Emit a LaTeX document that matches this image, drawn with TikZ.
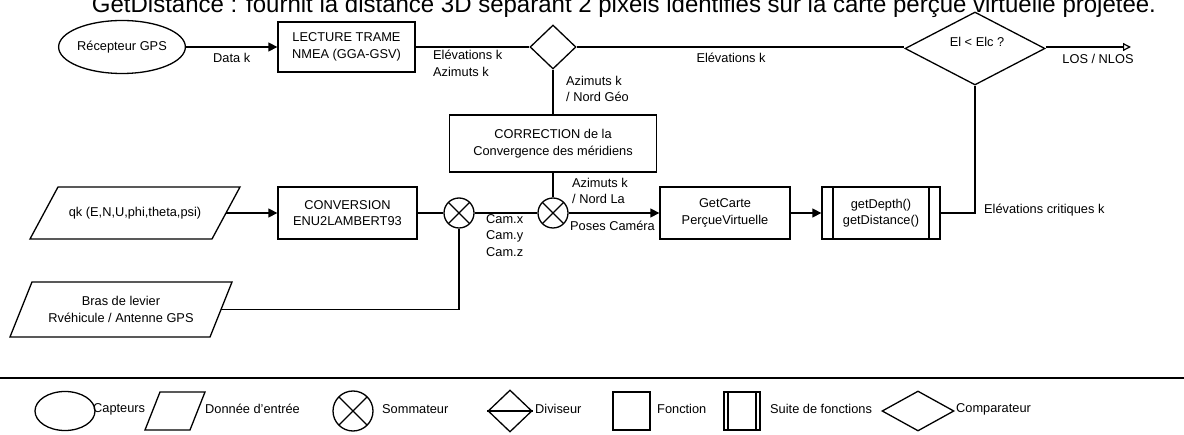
\documentclass[tikz,border=0pt]{standalone}
\usepackage{fontspec}
\setmainfont{Liberation Sans}
\usetikzlibrary{shapes.geometric,arrows.meta,calc}
\begin{document}
\begin{tikzpicture}[x=1pt,y=-1pt,
  every node/.style={font=\fontsize{12.8}{16.5}\selectfont},
  ln/.style={line width=1.3pt},
  tri/.style={-{Triangle[length=9pt,width=9pt]}},
  opentri/.style={-{Triangle[open,length=8pt,width=8pt,line width=1.2pt]}},
  fnbox/.style={draw,line width=1.3pt,inner sep=0pt,align=center,minimum width=#1,minimum height=52pt},
  suitebox/.style={fnbox=#1,path picture={
      \draw[line width=1.3pt] ([xshift=11pt]path picture bounding box.north west) -- ([xshift=11pt]path picture bounding box.south west)
        ([xshift=-11pt]path picture bounding box.north east) -- ([xshift=-11pt]path picture bounding box.south east);}},
  sensor/.style={ellipse,draw,line width=1.3pt,inner sep=0pt,align=center},
  sumnode/.style={circle,draw,line width=1.3pt,inner sep=0pt,minimum size=#1,path picture={
      \draw[line width=1.3pt] (path picture bounding box.north west) -- (path picture bounding box.south east)
        (path picture bounding box.north east) -- (path picture bounding box.south west);}},
  rhombus/.style={diamond,draw,line width=1.3pt,inner sep=0pt},
  lbl/.style={inner sep=0pt,align=left},
]
\useasboundingbox (0,0) rectangle (1184,435);
\clip (0,0) rectangle (1184,435);

% heading line, cut by the top edge
\node[anchor=base,inner sep=0pt,font=\fontsize{24}{28}\selectfont] (title) at (624,13)
  {GetDistance : fournit la distance 3D séparant 2 pixels identifiés sur la carte perçue virtuelle projetée.};

% ---- upper chain: GPS receiver -> NMEA parsing -> divider -> comparator
\node[sensor,minimum width=122pt,minimum height=53pt] (gps) at (122,47) {Récepteur GPS};
\node[fnbox=137pt,minimum height=50pt] (lect) at (346.5,47) {LECTURE TRAME\\NMEA (GGA-GSV)};
\node[rhombus,minimum width=46pt,minimum height=44pt] (div) at (553,47) {};
\node[rhombus,minimum width=140pt,minimum height=73pt] (cmp) at (975,48.5) {};
\node (cmptxt) at (977,42) {El < Elc ?};
\coordinate (out) at (1131,47);

\node[fnbox=207pt,minimum height=57pt] (corr) at (553,143.5) {CORRECTION de la\\Convergence des méridiens};

% ---- lower chain: pose -> Lambert conversion -> summers -> virtual map -> depth
\draw[ln] (30,239) -- (58,187) -- (240,187) -- (212,239) -- cycle;
\node (qk) at (135,213) {qk (E,N,U,phi,theta,psi)};
\coordinate (qkout) at (226,213);

\node[fnbox=139pt] (conv) at (347.5,213) {CONVERSION\\ENU2LAMBERT93};
\node[sumnode=30pt] (s1) at (459,213) {};
\node[sumnode=30pt] (s2) at (553,213) {};
\node[fnbox=130pt] (carte) at (725,213) {GetCarte\\PerçueVirtuelle};
\node[suitebox=118pt] (suite) at (881,213) {getDepth()\\getDistance()};

\draw[ln] (10,337) -- (32,282) -- (232,282) -- (210,337) -- cycle;
\node[align=center] (bras) at (121,309.5) {Bras de levier\\Rvéhicule / Antenne GPS};
\coordinate (brasout) at (221,309.5);

% ---- connectors
\draw[ln,tri] (gps) -- (lect);
\draw[ln] (lect.east) -- (div.west);
\draw[ln] (div.east) -- (div.east -| cmp.west);
\draw[ln,opentri] (cmp.east |- out) -- (out);
\draw[ln] (div.south) -- (corr.north);
\draw[ln] (corr.south) -- (s2.north);
\draw[ln,tri] (qkout) -- (conv.west);
\draw[ln] (conv.east) -- (s1.west);
\draw[ln] (s1.east) -- (s2.west);
\draw[ln,tri] (s2.east) -- (carte.west);
\draw[ln,tri] (carte.east) -- (suite.west);
\draw[ln] (suite.east) -| (cmp.south);
\draw[ln] (brasout) -| (s1.south);

% ---- connector labels
\node[anchor=west,inner sep=0pt] (ldata) at (213,58) {Data k};
\node[lbl,anchor=north west] (lelaz) at (433,50) {Elévations k\\Azimuts k};
\node (lel) at (731,58) {Elévations k};
\node (llos) at (1098,59) {LOS / NLOS};
\node[lbl,anchor=north west] (lazgeo) at (566,76) {Azimuts k\\/ Nord Géo};
\node[lbl,anchor=north west] (lazla) at (572,178) {Azimuts k\\/ Nord La};
\node[anchor=west,inner sep=0pt] (lposes) at (570,226) {Poses Caméra};
\node[lbl,anchor=north west] (lcam) at (486,214) {Cam.x\\Cam.y\\Cam.z};
\node[anchor=west,inner sep=0pt] (lcrit) at (984,210) {Elévations critiques k};

% ---- key
\draw[line width=2.2pt] (0,378) -- (1184,378);

\node[sensor,minimum width=60pt,minimum height=39pt] (kcap) at (65,411) {};
\node[anchor=west,inner sep=0pt] (tcap) at (93,409) {Capteurs};

\draw[ln] (145,430) -- (160,392) -- (205,392) -- (190,430) -- cycle;
\node[anchor=west,inner sep=0pt] (tdon) at (205,409) {Donnée d'entrée};

\node[sumnode=40pt] (ksum) at (353,411) {};
\node[anchor=west,inner sep=0pt] (tsum) at (382,409) {Sommateur};

\node[rhombus,minimum width=44pt,minimum height=42pt] (kdiv) at (510,411) {};
\draw[ln] (kdiv.west) -- (kdiv.east);
\node[anchor=west,inner sep=0pt] (tdiv) at (535,409) {Diviseur};

\node[fnbox=37pt,minimum height=38pt] (kfn) at (631.5,411) {};
\node[anchor=west,inner sep=0pt] (tfn) at (657,409) {Fonction};

\draw[ln] (724,392) rectangle (760,430);
\draw[ln] (728,392) -- (728,430) (756,392) -- (756,430);
\node[anchor=west,inner sep=0pt] (tsuite) at (770,409) {Suite de fonctions};

\node[rhombus,minimum width=72pt,minimum height=40pt] (kcmp) at (918,411) {};
\node[anchor=west,inner sep=0pt] (tcmp) at (956,409) {Comparateur};
\end{tikzpicture}
\end{document}
